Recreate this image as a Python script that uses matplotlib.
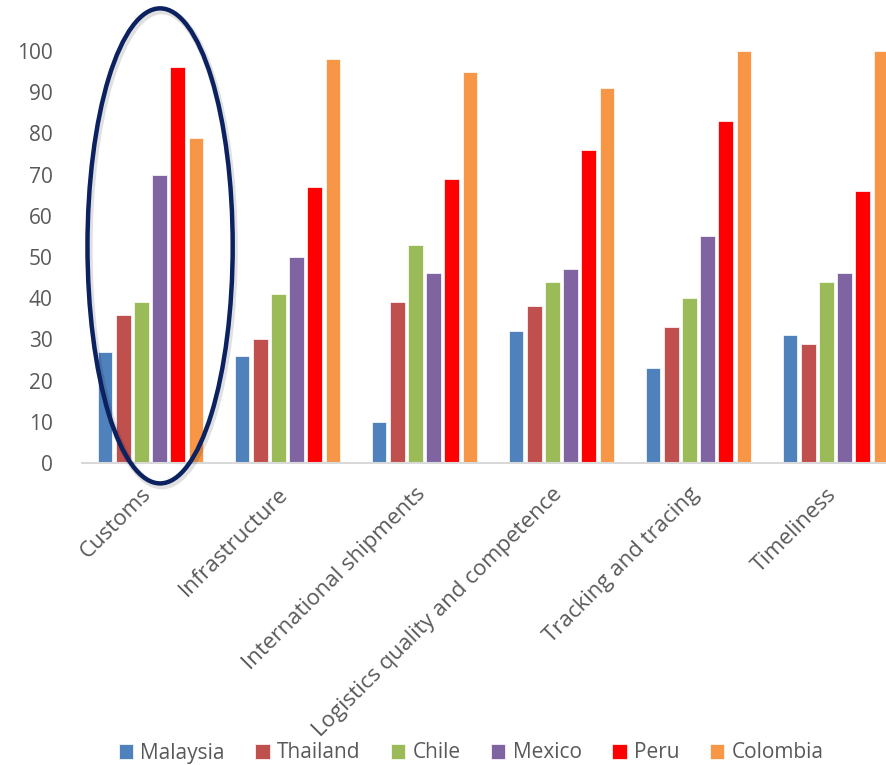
import numpy as np
import matplotlib
matplotlib.use("Agg")
import matplotlib.pyplot as plt
from matplotlib.patches import Ellipse
from matplotlib.transforms import ScaledTranslation

categories = ["Customs", "Infrastructure", "International shipments",
              "Logistics quality and competence", "Tracking and tracing", "Timeliness"]
countries = ["Malaysia", "Thailand", "Chile", "Mexico", "Peru", "Colombia"]
colors = ["#4f81bd", "#c0504d", "#9bbb59", "#8064a2", "#ff0000", "#f79646"]

malaysia = [27, 26, 10, 32, 23, 31]
thailand = [36, 30, 39, 38, 33, 29]
chile = [39, 41, 53, 44, 40, 44]
mexico = [70, 50, 46, 47, 55, 46]
peru = [96, 67, 69, 76, 83, 66]
colombia = [79, 98, 95, 91, 100, 100]
series = [malaysia, thailand, chile, mexico, peru, colombia]

yticks = list(range(0, 101, 10))

plt.rcParams['font.family'] = ['Open Sans', 'DejaVu Sans']
text_color = "#595959"

fig = plt.figure(figsize=(8.87, 7.65), dpi=100)
W, H = 887, 765
left_px, right_px = 82, 904
bottom_px, top_px = 463, 51
ax = fig.add_axes([left_px / W, (H - bottom_px) / H,
                   (right_px - left_px) / W, (bottom_px - top_px) / H])

x = np.arange(len(categories))
pitch = 0.133
width = 0.108
for i, (vals, name, col) in enumerate(zip(series, countries, colors)):
    offs = (i - 2.5) * pitch
    ax.bar(x + offs, vals, width=width, color=col, label=name,
           edgecolor="white", linewidth=0.5, zorder=2)

ax.set_xlim(-0.5, len(categories) - 0.5)
ax.set_ylim(0, 100)
ax.set_yticks(yticks)
ax.set_yticklabels([str(t) for t in yticks], fontsize=15, color=text_color)
ax.tick_params(axis="y", length=0, pad=21)
ax.set_xticks(x)
ax.set_xticklabels(categories, rotation=45, ha="right", va="top",
                   rotation_mode="anchor", fontsize=16, color=text_color)
ax.tick_params(axis="x", length=0, pad=15)
shift = ScaledTranslation(-10 / 100, 0, fig.dpi_scale_trans)
for lbl in ax.get_xticklabels():
    lbl.set_transform(lbl.get_transform() + shift)
for s in ["top", "right", "left"]:
    ax.spines[s].set_visible(False)
ax.spines["bottom"].set_color("#d9d9d9")
ax.spines["bottom"].set_linewidth(1.5)

# highlight ring around the Customs group, with a soft drop shadow
ring_center = (0.07, 52.7)
ring_w, ring_h = 1.06, 115.3
shadow = Ellipse((ring_center[0] + 0.012, ring_center[1] - 0.6), ring_w, ring_h,
                 fill=False, edgecolor="#000000", alpha=0.12, linewidth=5,
                 clip_on=False, zorder=2.9)
ax.add_patch(shadow)
ring = Ellipse(ring_center, ring_w, ring_h, fill=False, edgecolor="#0b2160",
               linewidth=3.2, clip_on=False, zorder=3)
ax.add_patch(ring)

leg = fig.legend(loc="center", bbox_to_anchor=(0.531, 1 - 753 / H), ncol=6,
                 frameon=False, handlelength=0.7, handleheight=0.7,
                 handletextpad=0.35, columnspacing=1.45,
                 prop={"family": ["Open Sans", "DejaVu Sans"], "size": 15})
for t in leg.get_texts():
    t.set_color(text_color)

fig.savefig("out.png", dpi=100, facecolor="white")
